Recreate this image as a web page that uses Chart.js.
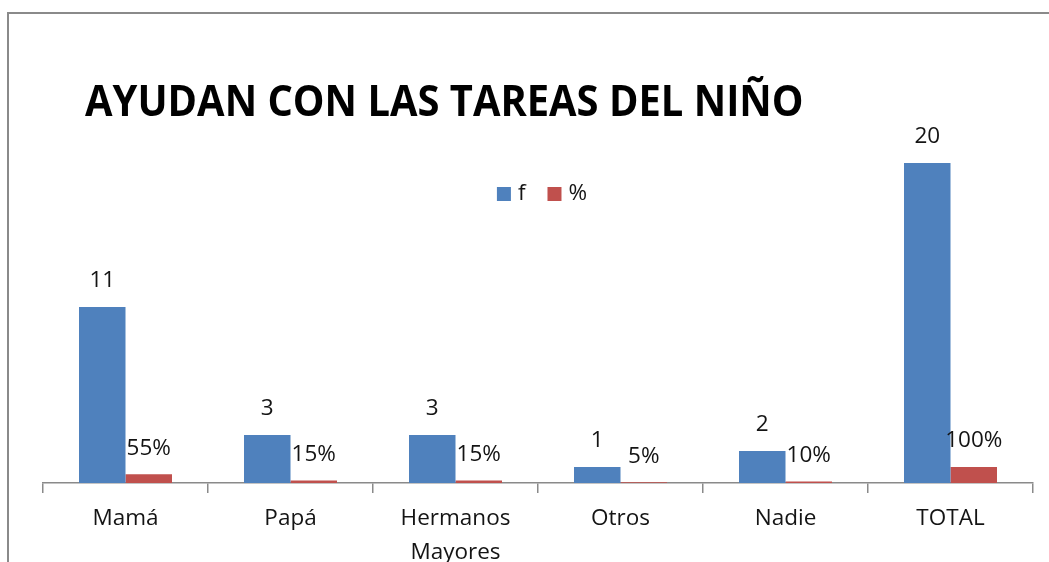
<!DOCTYPE html>
<html>
<head>
<meta charset="utf-8">
<script src="https://cdn.jsdelivr.net/npm/chart.js@4.4.0/dist/chart.umd.min.js"></script>
<style>
  html, body { margin: 0; padding: 0; background: #ffffff; }
  #wrap { position: relative; width: 1049px; height: 562px; overflow: hidden; background: #fff; }
  #frame { position: absolute; left: 7px; top: 12px; width: 1100px; height: 600px;
           border-top: 2px solid #8a8a8a; border-left: 2px solid #8a8a8a; }
  #title { position: absolute; left: 85px; top: 70px; margin: 0;
           font-family: "Open Sans", sans-serif; font-weight: 700; font-size: 43px;
           line-height: 60px; color: #000; white-space: nowrap; transform-origin: 0 0; }
  canvas { position: absolute; left: 0; top: 0; }
</style>
</head>
<body>
<div id="wrap">
  <div id="frame"></div>
  <canvas id="c" width="1049" height="562"></canvas>
  <div id="title">AYUDAN CON LAS TAREAS DEL NIÑO</div>
</div>
<script>
const categories = ['Mamá', 'Papá', ['Hermanos', 'Mayores'], 'Otros', 'Nadie', 'TOTAL'];
const seriesNames = ['f', '%'];
const fValues = [11, 3, 3, 1, 2, 20];
const pctValues = [0.55, 0.15, 0.15, 0.05, 0.10, 1.00];
const colors = ['#4F81BD', '#C0504D'];

// fit title width to reference
(function () {
  const t = document.getElementById('title');
  const w = t.offsetWidth;
  t.style.transform = 'scaleX(' + (719 / w) + ')';
})();

const FONT = '"Open Sans", sans-serif';
const TEXT = '#141414';

const valueLabels = {
  id: 'valueLabels',
  afterDatasetsDraw(chart) {
    const ctx = chart.ctx;
    ctx.save();
    ctx.font = '22.5px ' + FONT;
    ctx.fillStyle = TEXT;
    ctx.textAlign = 'center';
    ctx.textBaseline = 'middle';
    chart.data.datasets.forEach((ds, di) => {
      const meta = chart.getDatasetMeta(di);
      meta.data.forEach((el, i) => {
        const v = ds.data[i];
        const txt = di === 1 ? Math.round(v * 100) + '%' : String(v);
        ctx.fillText(txt, el.x, el.y - 26);
      });
    });
    ctx.restore();
  }
};

const boxLegend = {
  id: 'boxLegend',
  afterDraw(chart) {
    const ctx = chart.ctx;
    const area = chart.chartArea;
    ctx.save();
    ctx.font = '22.5px ' + FONT;
    ctx.textBaseline = 'middle';
    const box = 14, gap = 7, itemGap = 22;
    const items = chart.data.datasets.map(d => ({ label: d.label, color: d.backgroundColor }));
    let total = 0;
    items.forEach((it, i) => {
      it.w = box + gap + ctx.measureText(it.label).width;
      total += it.w + (i ? itemGap : 0);
    });
    let x = (area.left + area.right) / 2 - total / 2 + 4;
    const y = area.top + 63;
    items.forEach(it => {
      ctx.fillStyle = it.color;
      ctx.fillRect(x, y - box / 2, box, box);
      ctx.fillStyle = TEXT;
      ctx.textAlign = 'left';
      ctx.fillText(it.label, x + box + gap, y);
      x += it.w + itemGap;
    });
    ctx.restore();
  }
};

new Chart(document.getElementById('c'), {
  type: 'bar',
  data: {
    labels: categories,
    datasets: [
      { label: seriesNames[0], data: fValues, backgroundColor: colors[0],
        categoryPercentage: 0.5636, barPercentage: 1.0 },
      { label: seriesNames[1], data: pctValues, backgroundColor: colors[1],
        categoryPercentage: 0.5636, barPercentage: 1.0 }
    ]
  },
  options: {
    responsive: false,
    animation: false,
    layout: { padding: { left: 43, right: 16, top: 131, bottom: 0 } },
    plugins: {
      legend: { display: false },
      title: { display: false },
      tooltip: { enabled: false }
    },
    scales: {
      y: { display: false, min: 0, max: 22 },
      x: {
        afterFit: (s) => { s.height = 79; },
        grid: { offset: true, drawOnChartArea: false, drawTicks: true, tickLength: 10,
                color: '#8a8a8a', lineWidth: 1.5 },
        border: { display: true, color: '#8a8a8a', width: 1.5 },
        ticks: { color: TEXT, padding: 9, maxRotation: 0, autoSkip: false,
                 font: { family: FONT, size: 22.5, lineHeight: 1.5 } }
      }
    }
  },
  plugins: [valueLabels, boxLegend]
});
</script>
</body>
</html>
